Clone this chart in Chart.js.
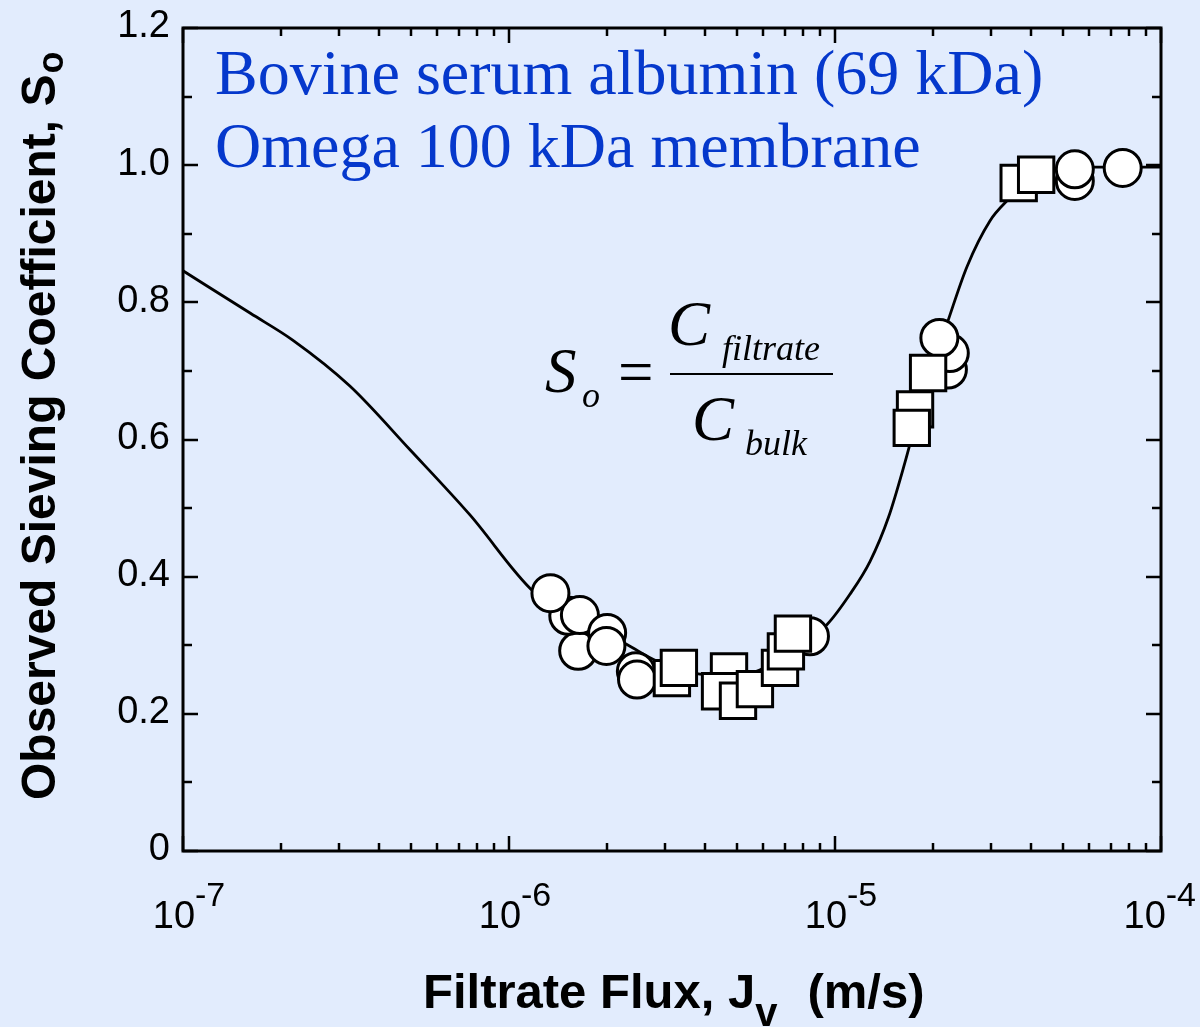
<!DOCTYPE html>
<html lang="en">
<head>
    <meta charset="UTF-8">
    <title>Sieving Coefficient vs Filtrate Flux</title>
    <script src="https://cdnjs.cloudflare.com/ajax/libs/Chart.js/4.4.0/chart.umd.min.js"></script>
    <style>
        html, body { margin: 0; padding: 0; background: #e2ecfd; }
        .graph-box { width: 1200px; height: 1027px; position: relative; }
    </style>
</head>
<body>
    <div class="graph-box">
        <canvas id="graphSieving"></canvas>
    </div>

    <script>
        // model curve
        const curveFlux = [1.00e-7, 1.61e-7, 2.17e-7, 3.25e-7, 4.97e-7, 7.59e-7, 1.19e-6, 1.66e-6, 2.30e-6, 2.84e-6,
                           3.85e-6, 5.01e-6, 7.08e-6, 9.44e-6, 1.11e-5, 1.28e-5, 1.46e-5, 1.64e-5, 1.89e-5, 2.21e-5,
                           2.54e-5, 2.99e-5, 3.37e-5, 3.83e-5, 4.41e-5, 5.62e-5, 1.00e-4];
        const curveSo = [0.846, 0.784, 0.745, 0.678, 0.585, 0.490, 0.378, 0.335, 0.301, 0.277,
                         0.258, 0.256, 0.285, 0.330, 0.374, 0.422, 0.487, 0.567, 0.675, 0.770,
                         0.852, 0.919, 0.948, 0.972, 0.990, 0.997, 0.997];

        // measured points, circles
        const circleFlux = [1.63e-6, 1.52e-6, 1.65e-6, 1.34e-6, 2.00e-6, 1.99e-6, 2.45e-6, 2.47e-6, 8.38e-6,
                            2.22e-5, 2.25e-5, 2.09e-5, 5.44e-5, 5.44e-5, 7.63e-5];
        const circleSo = [0.292, 0.343, 0.344, 0.376, 0.318, 0.299, 0.262, 0.250, 0.313,
                          0.702, 0.726, 0.748, 0.977, 0.994, 0.996];

        // measured points, squares
        const squareFlux = [3.16e-6, 3.32e-6, 4.73e-6, 4.44e-6, 5.04e-6, 5.68e-6, 6.78e-6, 7.07e-6, 7.43e-6,
                            1.76e-5, 1.72e-5, 1.93e-5, 3.66e-5, 4.14e-5];
        const squareSo = [0.252, 0.267, 0.262, 0.233, 0.219, 0.236, 0.267, 0.291, 0.317,
                          0.644, 0.617, 0.697, 0.974, 0.986];

        // axes
        const xTickPowers = [-7, -6, -5, -4];
        const yTickLabels = ['0', '0.2', '0.4', '0.6', '0.8', '1.0', '1.2'];
        const titleLines = ['Bovine serum albumin (69 kDa)', 'Omega 100 kDa membrane'];

        const toPoints = (xs, ys) => xs.map((x, i) => ({ x: x, y: ys[i] }));

        const SANS = '"Liberation Sans", Arial, Helvetica, sans-serif';
        const SERIF = '"Liberation Serif", "Times New Roman", serif';
        const BLUE = '#0538cc';

        // frame, inward ticks and all the text
        const framePlugin = {
            id: 'framePlugin',
            afterDatasetsDraw(chart) {
                const ctx = chart.ctx;
                const area = chart.chartArea;
                const xs = chart.scales.x;
                const ys = chart.scales.y;

                ctx.save();
                ctx.strokeStyle = '#000';
                ctx.lineWidth = 3;
                ctx.strokeRect(area.left, area.top, area.right - area.left, area.bottom - area.top);

                // x ticks (log decades)
                ctx.lineWidth = 2.5;
                const xMaxPow = xTickPowers[xTickPowers.length - 1];
                for (let p = xTickPowers[0]; p <= xMaxPow; p++) {
                    for (let m = 1; m <= 9; m++) {
                        const v = m * Math.pow(10, p);
                        if (v > Math.pow(10, xMaxPow) * 1.0001) break;
                        const px = Math.round(xs.getPixelForValue(v));
                        const len = m === 1 ? 15 : 8;
                        ctx.beginPath();
                        ctx.moveTo(px, area.bottom); ctx.lineTo(px, area.bottom - len);
                        ctx.moveTo(px, area.top); ctx.lineTo(px, area.top + len);
                        ctx.stroke();
                    }
                }

                // y ticks every 0.1, long ones at labels
                const yVals = yTickLabels.map(Number);
                const yMax = yVals[yVals.length - 1];
                for (let i = 0; i <= Math.round(yMax * 10); i++) {
                    const py = Math.round(ys.getPixelForValue(i / 10));
                    const len = i % 2 === 0 ? 15 : 9;
                    ctx.beginPath();
                    ctx.moveTo(area.left, py); ctx.lineTo(area.left + len, py);
                    ctx.moveTo(area.right, py); ctx.lineTo(area.right - len, py);
                    ctx.stroke();
                }

                // y tick labels
                ctx.fillStyle = '#000';
                ctx.font = '38px ' + SANS;
                ctx.textAlign = 'right';
                ctx.textBaseline = 'middle';
                yTickLabels.forEach((lab, i) => {
                    ctx.fillText(lab, area.left - 13, ys.getPixelForValue(yVals[i]) - 1);
                });

                // x tick labels 10^p
                ctx.textBaseline = 'alphabetic';
                ctx.textAlign = 'left';
                xTickPowers.forEach(p => {
                    const px = xs.getPixelForValue(Math.pow(10, p));
                    ctx.font = '38px ' + SANS;
                    const wBase = ctx.measureText('10').width;
                    ctx.font = '34px ' + SANS;
                    const sup = String(p);
                    const wSup = ctx.measureText(sup).width;
                    let x0 = px - (wBase + wSup) / 2 + 6;
                    x0 = Math.min(x0, 1196 - wBase - wSup);
                    ctx.font = '38px ' + SANS;
                    ctx.fillText('10', x0, 928);
                    ctx.font = '34px ' + SANS;
                    ctx.fillText(sup, x0 + wBase, 906);
                });

                // x axis title
                ctx.font = 'bold 49px ' + SANS;
                const t1 = 'Filtrate Flux, J';
                ctx.fillText(t1, 423, 1008);
                let w = 423 + ctx.measureText(t1).width;
                ctx.font = 'bold 40px ' + SANS;
                ctx.fillText('v', w, 1026);
                w += ctx.measureText('v').width;
                ctx.font = 'bold 49px ' + SANS;
                ctx.fillText('(m/s)', w + 30, 1008);

                // y axis title, rotated
                ctx.save();
                ctx.translate(55, 800);
                ctx.rotate(-Math.PI / 2);
                ctx.font = 'bold 48px ' + SANS;
                const t2 = 'Observed Sieving Coefficient, S';
                ctx.fillText(t2, 0, 0);
                const w2 = ctx.measureText(t2).width;
                ctx.font = 'bold 36px ' + SANS;
                ctx.fillText('o', w2 + 1, 8);
                ctx.restore();

                // sample description
                ctx.fillStyle = BLUE;
                ctx.font = '64px ' + SERIF;
                ctx.fillText(titleLines[0], 215, 94);
                ctx.fillText(titleLines[1], 215, 167);

                // S_o = C_filtrate / C_bulk
                ctx.fillStyle = '#000';
                ctx.font = 'italic 63px ' + SERIF;
                ctx.fillText('S', 545, 392);
                ctx.fillText('C', 668, 345);
                ctx.fillText('C', 692, 440);
                ctx.font = 'italic 36px ' + SERIF;
                ctx.fillText('o', 582, 407);
                ctx.fillText('filtrate', 722, 360);
                ctx.fillText('bulk', 745, 455);
                ctx.font = '63px ' + SERIF;
                ctx.fillText('=', 618, 393);
                ctx.lineWidth = 2;
                ctx.beginPath();
                ctx.moveTo(670, 374); ctx.lineTo(833, 374);
                ctx.stroke();

                ctx.restore();
            }
        };

        const ctx = document.getElementById('graphSieving').getContext('2d');
        const chartSieving = new Chart(ctx, {
            type: 'scatter',
            data: {
                datasets: [
                    {
                        label: 'Squares',
                        data: toPoints(squareFlux, squareSo),
                        pointStyle: 'rect',
                        pointRadius: 25,
                        pointBackgroundColor: '#fff',
                        pointBorderColor: '#000',
                        pointBorderWidth: 3,
                        showLine: false,
                        order: 1
                    },
                    {
                        label: 'Circles',
                        data: toPoints(circleFlux, circleSo),
                        pointStyle: 'circle',
                        pointRadius: 18.5,
                        pointBackgroundColor: '#fff',
                        pointBorderColor: '#000',
                        pointBorderWidth: 3,
                        showLine: false,
                        order: 2
                    },
                    {
                        label: 'Model',
                        data: toPoints(curveFlux, curveSo),
                        showLine: true,
                        borderColor: '#000',
                        borderWidth: 2.8,
                        pointRadius: 0,
                        cubicInterpolationMode: 'monotone',
                        fill: false,
                        order: 3
                    }
                ]
            },
            options: {
                responsive: true,
                maintainAspectRatio: false,
                animation: false,
                events: [],
                layout: { padding: { left: 183, top: 23, right: 39, bottom: 176 } },
                plugins: {
                    legend: { display: false },
                    tooltip: { enabled: false }
                },
                scales: {
                    x: { type: 'logarithmic', min: 1e-7, max: 1e-4, display: false },
                    y: { type: 'linear', min: 0, max: 1.2, display: false }
                }
            },
            plugins: [framePlugin]
        });
    </script>
</body>
</html>
